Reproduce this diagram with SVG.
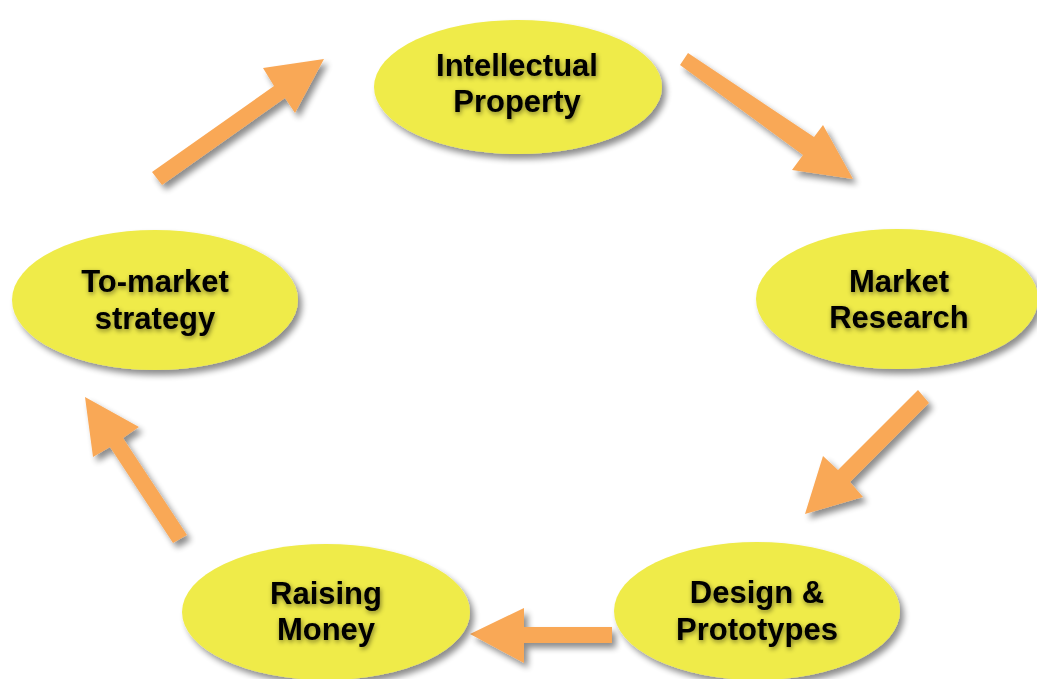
<svg xmlns="http://www.w3.org/2000/svg" width="1037" height="679" viewBox="0 0 1037 679">
<defs>
<filter id="sh" x="-20%" y="-20%" width="150%" height="150%">
<feGaussianBlur in="SourceAlpha" stdDeviation="3"/>
<feOffset dx="4" dy="5" result="b"/>
<feComponentTransfer><feFuncA type="linear" slope="0.45"/></feComponentTransfer>
<feMerge><feMergeNode/><feMergeNode in="SourceGraphic"/></feMerge>
</filter>
<filter id="tsh" x="-20%" y="-30%" width="140%" height="160%">
<feGaussianBlur in="SourceAlpha" stdDeviation="2.5"/>
<feOffset dx="1" dy="2"/>
<feComponentTransfer><feFuncA type="linear" slope="0.5"/></feComponentTransfer>
<feMerge><feMergeNode/><feMergeNode in="SourceGraphic"/></feMerge>
</filter>
</defs>
<style>
.node ellipse{fill:#EFEB4A;filter:url(#sh)}
.node text{font-family:"Liberation Sans",Arial,sans-serif;font-weight:bold;font-size:31px;fill:#000;text-anchor:middle;filter:url(#tsh)}
.arr{fill:#F9A857;filter:url(#sh)}
</style>
<rect width="1037" height="679" fill="#fff"/>
<g id="connectors">
<polygon class="arr" points="152,172 274,86 263,68 324,59 295,113 285,98 162,185"/>
<polygon class="arr" points="688,53 814,137 823,125 853,179 792,170 803,155 680,65"/>
<polygon class="arr" points="929,403 850,482 863,497 805,514 823,456 838,470 918,390"/>
<polygon class="arr" points="612,627 524,627 524,608 470,634 524,663 524,643 612,643"/>
<polygon class="arr" points="187,535 123,438 139,427 85,397 93,457 110,447 173,543"/>
</g>
<g id="node-ip" class="node">
<ellipse cx="518" cy="87" rx="144" ry="67"/>
<text x="517" y="76">Intellectual</text>
<text x="517" y="112">Property</text>
</g>
<g id="node-mr" class="node">
<ellipse cx="897" cy="299" rx="141" ry="70"/>
<text x="899" y="292">Market</text>
<text x="899" y="328">Research</text>
</g>
<g id="node-dp" class="node">
<ellipse cx="757" cy="611" rx="143" ry="69"/>
<text x="757" y="603">Design &amp;</text>
<text x="757" y="640">Prototypes</text>
</g>
<g id="node-rm" class="node">
<ellipse cx="326" cy="612" rx="144" ry="68"/>
<text x="326" y="604">Raising</text>
<text x="326" y="640">Money</text>
</g>
<g id="node-tm" class="node">
<ellipse cx="155" cy="300" rx="143" ry="70"/>
<text x="155" y="292">To-market</text>
<text x="155" y="329">strategy</text>
</g>
</svg>
